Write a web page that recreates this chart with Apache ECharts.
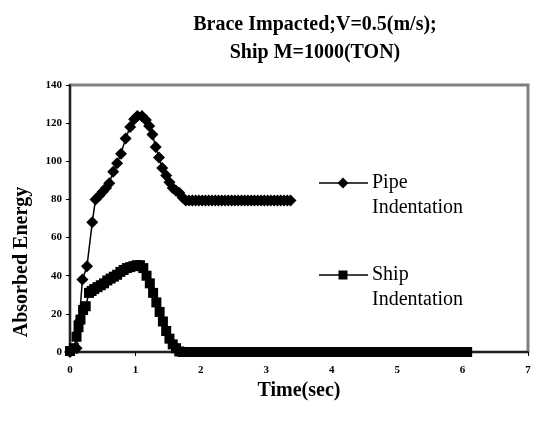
<!DOCTYPE html>
<html>
<head>
<meta charset="utf-8">
<script src="https://cdn.jsdelivr.net/npm/echarts@6/dist/echarts.min.js"></script>
<style>
  html, body { margin: 0; padding: 0; background: #fff; }
  #chart { width: 534px; height: 421px; }
</style>
</head>
<body>
<div id="chart"></div>
<script>
// time (sec) / absorbed energy
var pipeTime = [0, 0.1, 0.14, 0.19, 0.26, 0.34, 0.39, 0.45, 0.5, 0.55, 0.6, 0.66, 0.72, 0.78, 0.85, 0.92, 0.98,
  1.03, 1.1, 1.16, 1.21, 1.26, 1.31, 1.36, 1.41, 1.47, 1.52, 1.57, 1.62, 1.67, 1.72, 1.77,
  1.82, 1.87, 1.92, 1.97, 2.02, 2.07, 2.12, 2.17, 2.22, 2.27, 2.32, 2.37, 2.42, 2.47, 2.52, 2.57,
  2.62, 2.67, 2.72, 2.77, 2.82, 2.87, 2.92, 2.97, 3.02, 3.07, 3.12, 3.17, 3.22, 3.27, 3.32, 3.37];
var pipeEnergy = [0, 2, 16, 38, 45, 68, 80, 82, 84, 86, 88.5, 94.5, 99, 104, 112, 118, 122,
  123.7, 123.8, 121.7, 118.5, 114, 107.5, 102, 96.5, 92.5, 89, 86, 84.5, 83.5, 81, 79.5,
  79.5, 79.5, 79.5, 79.5, 79.5, 79.5, 79.5, 79.5, 79.5, 79.5, 79.5, 79.5, 79.5, 79.5, 79.5, 79.5,
  79.5, 79.5, 79.5, 79.5, 79.5, 79.5, 79.5, 79.5, 79.5, 79.5, 79.5, 79.5, 79.5, 79.5, 79.5, 79.5];

var shipTime = [0, 0.06, 0.1, 0.13, 0.16, 0.2, 0.24, 0.29, 0.33, 0.37, 0.42, 0.47, 0.52, 0.57, 0.62, 0.67,
  0.72, 0.77, 0.82, 0.87, 0.92, 0.97, 1.02, 1.07, 1.12, 1.17, 1.22, 1.27, 1.32, 1.37, 1.42, 1.47,
  1.52, 1.57, 1.62, 1.67, 1.72, 1.77, 1.82, 1.87, 1.92, 1.97,
  2.02, 2.07, 2.12, 2.17, 2.22, 2.27, 2.32, 2.37, 2.42, 2.47, 2.52, 2.57, 2.62, 2.67, 2.72, 2.77, 2.82, 2.87, 2.92, 2.97,
  3.02, 3.07, 3.12, 3.17, 3.22, 3.27, 3.32, 3.37, 3.42, 3.47, 3.52, 3.57, 3.62, 3.67, 3.72, 3.77, 3.82, 3.87, 3.92, 3.97,
  4.02, 4.07, 4.12, 4.17, 4.22, 4.27, 4.32, 4.37, 4.42, 4.47, 4.52, 4.57, 4.62, 4.67, 4.72, 4.77, 4.82, 4.87, 4.92, 4.97,
  5.02, 5.07, 5.12, 5.17, 5.22, 5.27, 5.32, 5.37, 5.42, 5.47, 5.52, 5.57, 5.62, 5.67, 5.72, 5.77, 5.82, 5.87, 5.92, 5.97,
  6.02, 6.07];
var shipEnergy = [0.5, 2, 8, 13, 17, 22, 24, 31, 32, 33, 34, 35, 36, 37.5, 38.5, 39.5,
  40.5, 42, 43, 44, 44.5, 45, 45.5, 45.5, 44, 40, 36, 31, 26, 21, 16, 11,
  7, 4, 2, 0.3, 0, 0, 0, 0, 0, 0,
  0, 0, 0, 0, 0, 0, 0, 0, 0, 0, 0, 0, 0, 0, 0, 0, 0, 0, 0, 0,
  0, 0, 0, 0, 0, 0, 0, 0, 0, 0, 0, 0, 0, 0, 0, 0, 0, 0, 0, 0,
  0, 0, 0, 0, 0, 0, 0, 0, 0, 0, 0, 0, 0, 0, 0, 0, 0, 0, 0, 0,
  0, 0, 0, 0, 0, 0, 0, 0, 0, 0, 0, 0, 0, 0, 0, 0, 0, 0, 0, 0,
  0, 0];

var FONT = '"Liberation Serif", "Times New Roman", serif';

function pairs(xs, ys) {
  return xs.map(function (x, i) { return [x, ys[i]]; });
}

var chart = echarts.init(document.getElementById("chart"));
chart.setOption({
  animation: false,
  backgroundColor: "#fff",
  title: {
    text: "Brace Impacted;V=0.5(m/s);\nShip M=1000(TON)",
    left: 310,
    top: 6,
    textAlign: "center",
    textStyle: { fontFamily: FONT, fontSize: 20, fontWeight: "bold", color: "#000", lineHeight: 28 }
  },
  grid: {
    left: 70, right: 6, top: 85, bottom: 69,
    show: true, borderColor: "#808080", borderWidth: 3, backgroundColor: "#fff"
  },
  xAxis: {
    type: "value", min: 0, max: 7, interval: 1,
    name: "Time(sec)", nameLocation: "middle", nameGap: 20,
    nameTextStyle: { fontFamily: FONT, fontSize: 20, fontWeight: "bold", color: "#000" },
    axisLine: { lineStyle: { color: "#000", width: 1.5 } },
    axisTick: { show: true, length: 4, lineStyle: { color: "#000" } },
    axisLabel: { fontFamily: FONT, fontSize: 11, fontWeight: "bold", color: "#000", margin: 13 },
    splitLine: { show: false }
  },
  yAxis: {
    type: "value", min: 0, max: 140, interval: 20,
    axisLine: { show: true, lineStyle: { color: "#000", width: 1.5 } },
    axisTick: { show: true, length: 4, lineStyle: { color: "#000" } },
    axisLabel: { fontFamily: FONT, fontSize: 11, fontWeight: "bold", color: "#000", margin: 8 },
    splitLine: { show: false }
  },
  graphic: [
    {
      type: "text", x: 22, y: 262, rotation: Math.PI / 2,
      style: { text: "Absorbed Energy", font: "bold 20px " + FONT, fill: "#000", align: "center", verticalAlign: "middle" }
    },
    // legend: pipe
    { type: "line", shape: { x1: 319, y1: 183, x2: 368, y2: 183 }, style: { stroke: "#000", lineWidth: 1.5 } },
    { type: "polygon", shape: { points: [[343, 177.5], [348.5, 183], [343, 188.5], [337.5, 183]] }, style: { fill: "#000" } },
    {
      type: "text", x: 372, y: 170.5,
      style: { text: "Pipe\nIndentation", font: "20px " + FONT, fill: "#000", lineHeight: 25, verticalAlign: "top" }
    },
    // legend: ship
    { type: "line", shape: { x1: 319, y1: 275, x2: 368, y2: 275 }, style: { stroke: "#000", lineWidth: 1.5 } },
    { type: "rect", shape: { x: 338.5, y: 270.5, width: 9, height: 9 }, style: { fill: "#000" } },
    {
      type: "text", x: 372, y: 262.5,
      style: { text: "Ship\nIndentation", font: "20px " + FONT, fill: "#000", lineHeight: 25, verticalAlign: "top" }
    }
  ],
  series: [
    {
      name: "Pipe Indentation", type: "line",
      data: pairs(pipeTime, pipeEnergy),
      symbol: "diamond", symbolSize: 12,
      lineStyle: { color: "#000", width: 1.5 },
      itemStyle: { color: "#000" }
    },
    {
      name: "Ship Indentation", type: "line",
      data: pairs(shipTime, shipEnergy),
      symbol: "rect", symbolSize: 10,
      lineStyle: { color: "#000", width: 1.5 },
      itemStyle: { color: "#000" }
    }
  ]
});
</script>
</body>
</html>
